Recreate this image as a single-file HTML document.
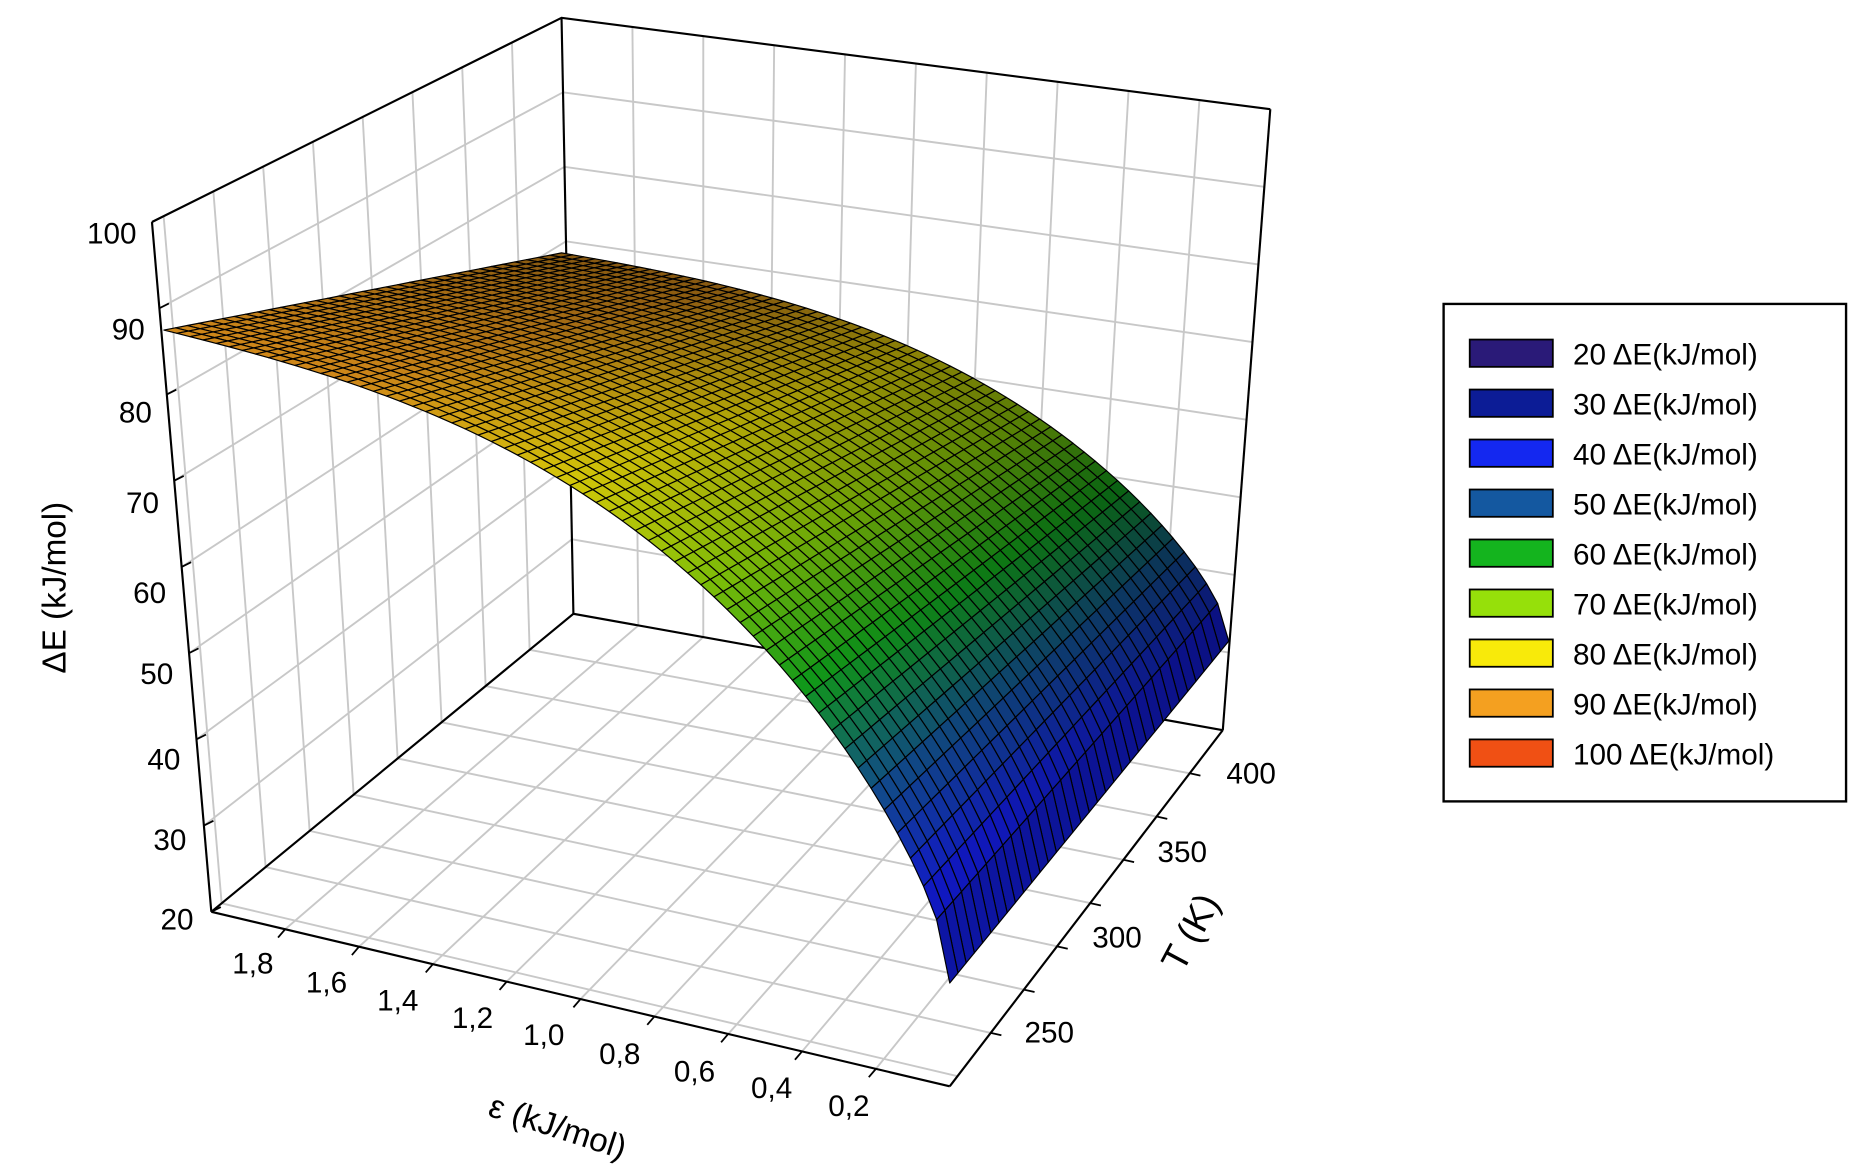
<!DOCTYPE html>
<html><head><meta charset="utf-8"><style>
html,body{margin:0;padding:0;background:#fff;}
svg{display:block;}
text{font-family:"Liberation Sans",sans-serif;fill:#000;}
</style></head><body>
<svg id="s" width="1852" height="1173" viewBox="0 0 1560 988" preserveAspectRatio="none" xmlns="http://www.w3.org/2000/svg">
<g id="grid" stroke="#c8c8c8" stroke-width="1.6" fill="none"></g>
<g id="axes" stroke="#000" stroke-width="1.8" fill="none">
<polyline points="128,187 473,15 1070,92"/>
<line x1="473" y1="15" x2="483" y2="517"/>
<polyline points="178,768 483,517 1030,615"/>
<line x1="1070" y1="92" x2="1030" y2="615"/>
<line x1="128" y1="187" x2="178" y2="768"/>
<line x1="178" y1="768" x2="800" y2="915"/>
<line x1="800" y1="915" x2="1030" y2="615"/>
</g>
<g id="mesh" stroke="#000" stroke-width="1" stroke-linejoin="round"></g>
<g id="ticks" stroke="#000" stroke-width="1.5"></g>
<g font-size="25" id="lab">
<text x="115" y="205" text-anchor="end">100</text>
<text x="122" y="286" text-anchor="end">90</text>
<text x="128" y="356" text-anchor="end">80</text>
<text x="134" y="432" text-anchor="end">70</text>
<text x="140" y="508" text-anchor="end">60</text>
<text x="146" y="576" text-anchor="end">50</text>
<text x="152" y="648" text-anchor="end">40</text>
<text x="157" y="716" text-anchor="end">30</text>
<text x="163" y="783" text-anchor="end">20</text>
<text x="213" y="820" text-anchor="middle">1,8</text>
<text x="275" y="836" text-anchor="middle">1,6</text>
<text x="335" y="851" text-anchor="middle">1,4</text>
<text x="398" y="866" text-anchor="middle">1,2</text>
<text x="458" y="880" text-anchor="middle">1,0</text>
<text x="522" y="896" text-anchor="middle">0,8</text>
<text x="585" y="911" text-anchor="middle">0,6</text>
<text x="650" y="925" text-anchor="middle">0,4</text>
<text x="715" y="940" text-anchor="middle">0,2</text>
<text x="1033" y="660">400</text>
<text x="975" y="726">350</text>
<text x="920" y="798">300</text>
<text x="863" y="878">250</text>
<text transform="translate(467,958) rotate(18)" text-anchor="middle" font-size="28">ε (kJ/mol)</text>
<text transform="translate(1012,790) rotate(-62)" text-anchor="middle" font-size="31">T (K)</text>
<text transform="translate(55,495) rotate(-90)" text-anchor="middle" font-size="28">ΔE  (kJ/mol)</text>
</g>
<rect x="1216" y="256" width="339" height="419" fill="#fff" stroke="#000" stroke-width="2"/>
<g id="leg" font-size="25"></g>
</svg>
<script>
var NS="http://www.w3.org/2000/svg";
function el(p,t,a){var e=document.createElementNS(NS,t);for(var k in a)e.setAttribute(k,a[k]);p.appendChild(e);return e;}
function L(a,b,t){return [a[0]+(b[0]-a[0])*t,a[1]+(b[1]-a[1])*t];}
var g=document.getElementById('grid');
var LT=[128,187],BT=[473,15],RT=[1070,92],LB=[178,768],BB=[483,517],RB=[1030,615],FR=[800,915];
for(var i=1;i<8;i++){var t=i/8;var a=L(LT,LB,t),b=L(BT,BB,t),c=L(RT,RB,t);
 el(g,'polyline',{points:a+' '+b+' '+c});}
var tf=[0.0285,0.15,0.2715,0.393,0.5145,0.636,0.7575,0.879];
for(var i=0;i<tf.length;i++){var t=tf[i];var a=L(LT,BT,t),b=L(LB,BB,t),c=L(FR,RB,t);
 el(g,'polyline',{points:a+' '+b+' '+c});}
for(var i=1;i<10;i++){var t=i/10;var a=L(BT,RT,t),b=L(BB,RB,t),c=L(LB,FR,t);
 el(g,'polyline',{points:a+' '+b+' '+c});}
var tk=document.getElementById('ticks');
for(var i=0;i<=8;i++){var p=L(LT,LB,i/8);el(tk,'line',{x1:p[0],y1:p[1],x2:p[0]+8,y2:p[1]-4});}
for(var i=1;i<10;i++){var p=L(LB,FR,i/10);el(tk,'line',{x1:p[0],y1:p[1],x2:p[0]-6,y2:p[1]+7});}
for(var i=1;i<tf.length;i++){var p=L(FR,RB,tf[i]);el(tk,'line',{x1:p[0],y1:p[1],x2:p[0]+9,y2:p[1]+2});}
function f(u){return 0.6*(1-Math.sqrt(1-u))+0.4*u*u*u;}
function P(u,v){var fr=[138+662*u,278+550*f(u)];var bk=[473+562*u,213+327*f(u)];return L(fr,bk,v);}
var stops=[[20,[40,20,110]],[30,[10,20,150]],[40,[20,30,235]],[50,[20,90,160]],[60,[20,180,30]],[70,[150,225,10]],[80,[250,235,10]],[90,[245,160,30]],[100,[240,80,20]]];
function col(z,sh){var c=stops[0][1];for(var i=0;i<stops.length-1;i++){if(z>=stops[i][0]&&z<=stops[i+1][0]){var t=(z-stops[i][0])/10;var a=stops[i][1],b=stops[i+1][1];c=[a[0]+(b[0]-a[0])*t,a[1]+(b[1]-a[1])*t,a[2]+(b[2]-a[2])*t];}}
 if(z>90)c=stops[7][1];
 return 'rgb('+Math.round(c[0]*sh)+','+Math.round(c[1]*sh)+','+Math.round(c[2]*sh)+')';}
var m=document.getElementById('mesh');var NU=60,NV=34;
for(var j=NV-1;j>=0;j--)for(var i=0;i<NU;i++){
 var u0=i/NU,u1=(i+1)/NU,v0=j/NV,v1=(j+1)/NV;
 var a=P(u0,v0),b=P(u1,v0),c=P(u1,v1),d=P(u0,v1);
 var um=(u0+u1)/2,vm=(v0+v1)/2;
 var z=95-64*f(um)*(1-0.08*vm);
 var sh=0.85-0.3*vm;
 el(m,'polygon',{points:a+' '+b+' '+c+' '+d,fill:col(z,sh)});}
var leg=document.getElementById('leg');
var lc=['#2a1a78','#0c1c96','#1428f0','#1458a0','#14b41e','#96e00a','#f8ea0a','#f4a020','#f05014'];
for(var i=0;i<9;i++){var y=298+i*42.1;
 el(leg,'rect',{x:1238,y:y-12,width:70,height:23,fill:lc[i],stroke:'#000','stroke-width':1.5});
 var t=el(leg,'text',{x:1325,y:y+9});t.textContent=(20+i*10)+' ΔE(kJ/mol)';}
</script>
</body></html>
